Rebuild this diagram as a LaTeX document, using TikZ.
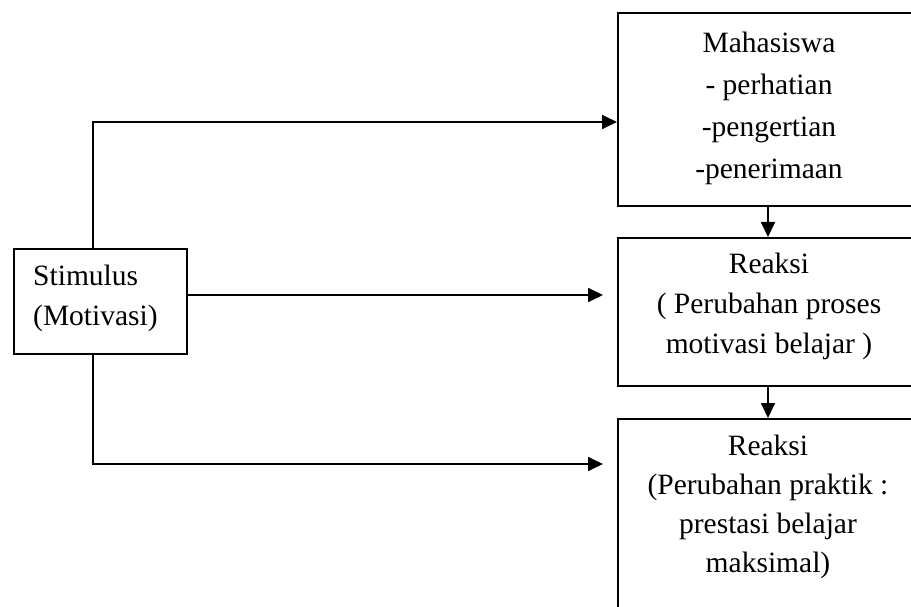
\documentclass[tikz,border=0pt]{standalone}
\usepackage{fontspec}
\setmainfont{Liberation Serif}
\usetikzlibrary{arrows.meta}
\begin{document}
\begin{tikzpicture}[x=1pt,y=-1pt,
  box/.style={draw=black,line width=1.8pt,rectangle,inner sep=0pt,anchor=north west},
  txt/.style={inner sep=0pt,font=\fontsize{29.5}{40}\selectfont},
  arr/.style={line width=1.8pt,-{Triangle[length=15pt,width=14pt]}}]
\useasboundingbox (0,0) rectangle (911,607);
\clip (0,0) rectangle (911,607);
\fill[white] (0,0) rectangle (911,607);
% boxes
\node[box,minimum width=173pt,minimum height=105pt] (stim) at (13,248) {};
\node[box,minimum width=310pt,minimum height=193pt] (mah) at (617,12) {};
\node[box,minimum width=310pt,minimum height=148pt] (r1) at (617,237) {};
\node[box,minimum width=310pt,minimum height=220pt] (r2) at (617,418) {};
% texts
\node[txt,align=left,anchor=west] (stimT) at (33,298) {Stimulus\\(Motivasi)};
\node[txt,align=center,font=\fontsize{29.5}{42}\selectfont] (mahT) at (769,108) {Mahasiswa\\- perhatian\\-pengertian\\-penerimaan};
\node[txt,align=center] (r1T) at (769,306) {Reaksi\\( Perubahan proses\\motivasi belajar )};
\node[txt,align=center,font=\fontsize{29.5}{39}\selectfont] (r2T) at (768,506.5) {Reaksi\\(Perubahan praktik :\\prestasi belajar\\maksimal)};
% helper coordinates
\coordinate (vx) at (93,0);
\coordinate (ax) at (768,0);
\coordinate (h1) at (0,122);
\coordinate (h2) at (0,295);
\coordinate (tip2) at (603,295);
\coordinate (tip3) at (603,464);
% connectors
\draw[arr] (stim.north -| vx) |- (mah.west |- h1);
\draw[arr] (stim.east |- h2) -- (tip2);
\draw[arr] (stim.south -| vx) |- (tip3);
\draw[arr] (mah.south -| ax) -- (r1.north -| ax);
\draw[arr] (r1.south -| ax) -- (r2.north -| ax);
\end{tikzpicture}
\end{document}
